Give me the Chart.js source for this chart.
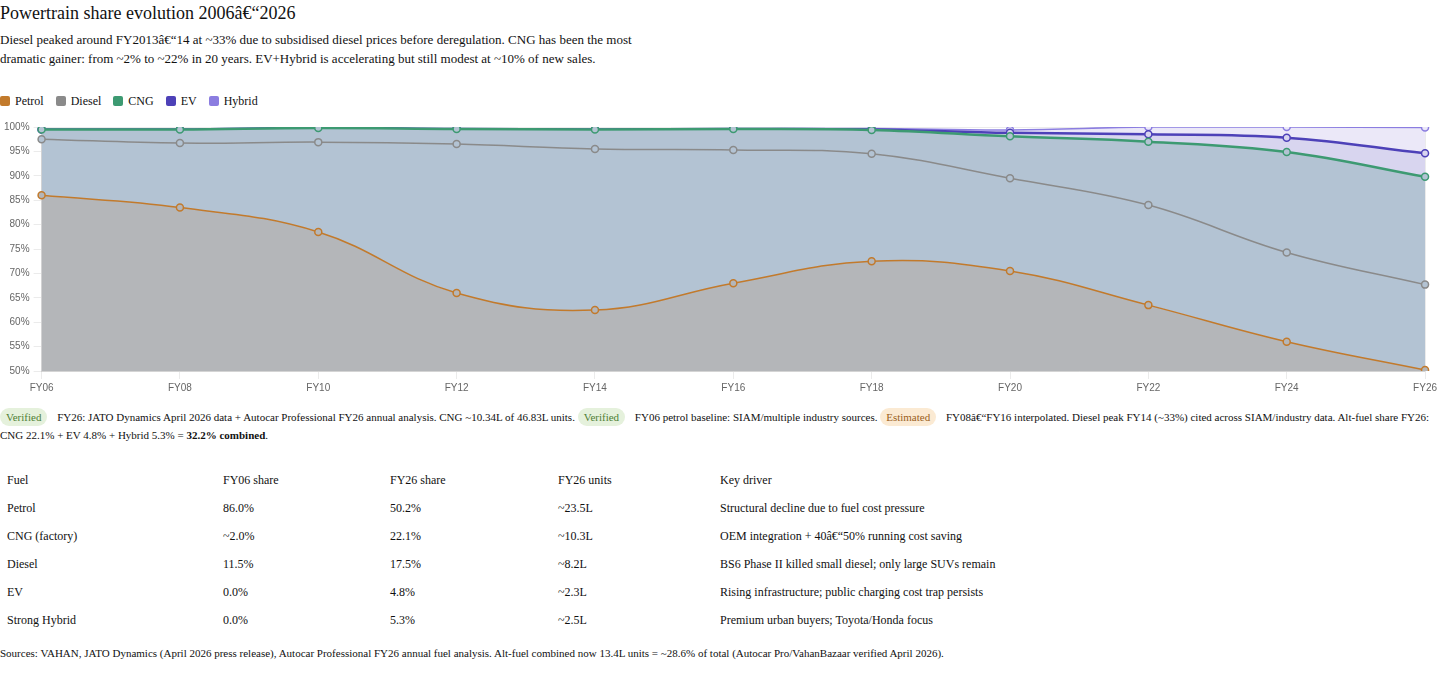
<!DOCTYPE html>
<html>
<head>
<meta charset="utf-8">
<title>Powertrain share evolution</title>
<script src="https://cdn.jsdelivr.net/npm/chart.js@4.4.1/dist/chart.umd.min.js"></script>
<style>
  body {
    margin: 0;
    font-family: "Liberation Serif", "Times New Roman", serif;
    color: #111;
    background: #fff;
  }
  h1 {
    margin: 0;
    font-size: 18px;
    font-weight: normal;
    line-height: 26px;
  }
  .sub {
    margin: 4px 0 0;
    width: 650px;
    font-size: 13px;
    line-height: 19px;
  }
  #legend {
    margin-top: 25px;
    font-size: 12px;
    line-height: 16px;
  }
  #legend span.item {
    margin-right: 12px;
  }
  #legend i {
    display: inline-block;
    width: 10px;
    height: 10px;
    border-radius: 2px;
    margin-right: 5px;
    vertical-align: -1px;
  }
  .chartBox {
    position: relative;
    height: 280px;
    margin-top: 8px;
  }
  .notes {
    margin-top: 11px;
    font-size: 11px;
    line-height: 18px;
  }
  .badge {
    display: inline-block;
    padding: 1px 6px;
    border-radius: 10px;
    line-height: 16px;
    margin: 0 7px 0 0;
  }
  .badge.ok { background: #e5f1dc; color: #4f7f35; }
  .badge.est { background: #fbead3; color: #9a5f22; }
  table {
    margin-top: 22px;
    border-collapse: collapse;
    font-size: 12px;
  }
  td {
    height: 28px;
    padding: 0 0 0 7px;
    vertical-align: middle;
  }
  .src {
    margin-top: 12px;
    font-size: 11px;
    line-height: 14px;
  }
</style>
</head>
<body>

<h1>Powertrain share evolution 2006&acirc;&euro;&ldquo;2026</h1>
<p class="sub">Diesel peaked around FY2013&acirc;&euro;&ldquo;14 at ~33% due to subsidised diesel prices before deregulation. CNG has been the most dramatic gainer: from ~2% to ~22% in 20 years. EV+Hybrid is accelerating but still modest at ~10% of new sales.</p>

<div id="legend"></div>

<div class="chartBox">
  <canvas id="shareChart"></canvas>
</div>

<div class="notes">
  <span class="badge ok">Verified</span> FY26: JATO Dynamics April 2026 data + Autocar Professional FY26 annual analysis. CNG ~10.34L of 46.83L units.
  <span class="badge ok">Verified</span> FY06 petrol baseline: SIAM/multiple industry sources.
  <span class="badge est">Estimated</span> FY08&acirc;&euro;&ldquo;FY16 interpolated. Diesel peak FY14 (~33%) cited across SIAM/industry data. Alt-fuel share FY26: CNG 22.1% + EV 4.8% + Hybrid 5.3% = <b>32.2% combined</b>.
</div>

<table>
  <colgroup>
    <col style="width:216px"><col style="width:167px"><col style="width:168px"><col style="width:162px"><col style="width:420px">
  </colgroup>
  <tbody id="shareTable"></tbody>
</table>

<div class="src">Sources: VAHAN, JATO Dynamics (April 2026 press release), Autocar Professional FY26 annual fuel analysis. Alt-fuel combined now 13.4L units = ~28.6% of total (Autocar Pro/VahanBazaar verified April 2026).</div>

<script>
// fiscal years on the x axis
const years = ['FY06', 'FY08', 'FY10', 'FY12', 'FY14', 'FY16', 'FY18', 'FY20', 'FY22', 'FY24', 'FY26'];

// share of new car sales, % (stacked bottom to top)
const petrol = [86.0, 83.5, 78.5, 66.0, 62.5, 68.0, 72.5, 70.5, 63.5, 56.0, 50.2];
const diesel = [11.5, 13.2, 18.4, 30.5, 33.0, 27.3, 22.0, 19.0, 20.5, 18.3, 17.5];
const cng = [2.0, 2.8, 2.9, 3.1, 4.0, 4.3, 4.9, 8.6, 13.0, 20.6, 22.1];
const ev = [0.0, 0.0, 0.0, 0.0, 0.0, 0.0, 0.1, 0.7, 1.5, 2.9, 4.8];
const hybrid = [0.0, 0.0, 0.0, 0.0, 0.0, 0.0, 0.2, 0.6, 1.5, 2.2, 5.3];

// y axis range
const yMin = 50;
const yMax = 100;
const yStep = 5;

// table rows
const tableHead = ['Fuel', 'FY06 share', 'FY26 share', 'FY26 units', 'Key driver'];
const fuelNames = ['Petrol', 'CNG (factory)', 'Diesel', 'EV', 'Strong Hybrid'];
const fy06Share = ['86.0%', '~2.0%', '11.5%', '0.0%', '0.0%'];
const fy26Share = ['50.2%', '22.1%', '17.5%', '4.8%', '5.3%'];
const fy26Units = ['~23.5L', '~10.3L', '~8.2L', '~2.3L', '~2.5L'];
const drivers = [
  'Structural decline due to fuel cost pressure',
  'OEM integration + 40\u00e2\u20ac\u201c50% running cost saving',
  'BS6 Phase II killed small diesel; only large SUVs remain',
  'Rising infrastructure; public charging cost trap persists',
  'Premium urban buyers; Toyota/Honda focus'
];

const series = [
  { name: 'Petrol', data: petrol, line: '#c27a2c', area: '#b4b6b9', width: 1.5, fill: 'origin' },
  { name: 'Diesel', data: diesel, line: '#8a8a8a', area: '#b3c3d3', width: 1.5, fill: '-1' },
  { name: 'CNG', data: cng, line: '#3d9a72', area: '#b3c3d3', width: 2.5, fill: '-1' },
  { name: 'EV', data: ev, line: '#4d41b8', area: '#d8d5ef', width: 2.5, fill: '-1' },
  { name: 'Hybrid', data: hybrid, line: '#8b7de0', area: '#ebe8f8', width: 1.5, fill: '-1' }
];

function buildLegend() {
  var box = document.getElementById('legend');
  series.forEach(s => {
    var item = document.createElement('span');
    item.className = 'item';
    item.innerHTML = `<i style="background:${s.line}"></i>${s.name}`;
    box.appendChild(item);
  });
}

function buildTable() {
  var body = document.getElementById('shareTable');
  var head = document.createElement('tr');
  tableHead.forEach(h => {
    var td = document.createElement('td');
    td.textContent = h;
    head.appendChild(td);
  });
  body.appendChild(head);

  fuelNames.forEach((name, i) => {
    var tr = document.createElement('tr');
    [name, fy06Share[i], fy26Share[i], fy26Units[i], drivers[i]].forEach(v => {
      var td = document.createElement('td');
      td.textContent = v;
      tr.appendChild(td);
    });
    body.appendChild(tr);
  });
}

function drawChart() {
  var ctx = document.getElementById('shareChart').getContext('2d');
  new Chart(ctx, {
    type: 'line',
    data: {
      labels: years,
      datasets: series.map(s => ({
        label: s.name,
        data: s.data,
        borderColor: s.line,
        backgroundColor: s.area,
        pointBackgroundColor: s.area,
        pointBorderColor: s.line,
        pointRadius: 3.5,
        pointBorderWidth: 1.5,
        borderWidth: s.width,
        fill: s.fill,
        tension: 0.4
      }))
    },
    options: {
      responsive: true,
      maintainAspectRatio: false,
      animation: false,
      plugins: {
        legend: { display: false },
        tooltip: { mode: 'index', intersect: false }
      },
      scales: {
        x: {
          grid: { color: 'rgba(0,0,0,0.08)' },
          ticks: { color: '#666', font: { size: 10 } }
        },
        y: {
          stacked: true,
          min: yMin,
          max: yMax,
          grid: { color: 'rgba(0,0,0,0.08)' },
          ticks: {
            stepSize: yStep,
            padding: 4,
            color: '#666',
            font: { size: 10 },
            callback: v => v + '%'
          }
        }
      }
    }
  });
}

buildLegend();
buildTable();
drawChart();
</script>
</body>
</html>
